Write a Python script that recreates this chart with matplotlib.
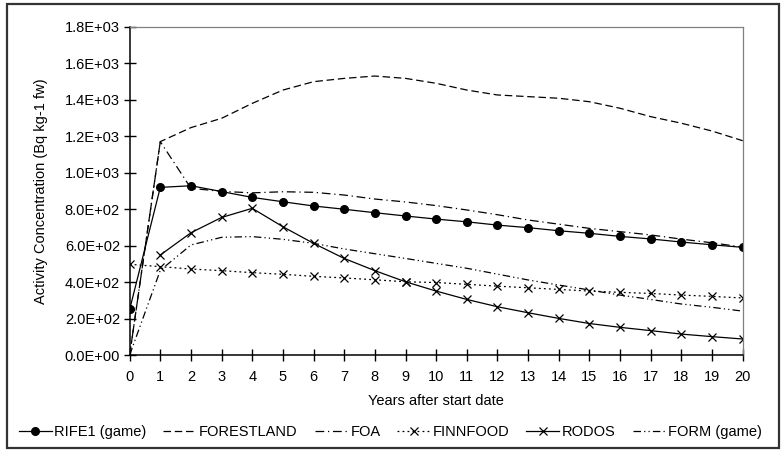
import numpy as np
import matplotlib.pyplot as plt
from matplotlib.patches import Rectangle

plt.rcParams['font.family'] = ['Liberation Sans', 'DejaVu Sans']

years = np.arange(0, 21)
years_rodos = np.arange(1, 21)

rife1 = [250, 920, 929, 897, 865, 841, 818, 800, 781, 763, 746, 731, 713, 699, 682, 668, 651, 637, 620, 605, 591]
forestland = [0, 1171, 1248, 1299, 1381, 1454, 1500, 1518, 1531, 1518, 1491, 1454, 1427, 1418, 1409, 1390, 1354, 1308, 1272, 1229, 1176]
foa = [0, 1171, 915, 898, 890, 896, 893, 878, 856, 840, 820, 796, 770, 741, 718, 695, 677, 659, 636, 616, 592]
finnfood = [498, 485, 472, 463, 452, 443, 432, 423, 413, 402, 398, 388, 378, 369, 360, 351, 344, 338, 329, 322, 313]
rodos = [549, 671, 755, 805, 704, 613, 530, 463, 402, 351, 305, 265, 232, 201, 173, 152, 134, 115, 101, 88]
form_game = [0, 465, 604, 646, 650, 635, 613, 582, 556, 530, 503, 476, 444, 412, 384, 357, 329, 305, 280, 262, 241]

yticks = np.arange(0, 1801, 200)
ytick_labels = ['0.0E+00', '2.0E+02', '4.0E+02', '6.0E+02', '8.0E+02',
                '1.0E+03', '1.2E+03', '1.4E+03', '1.6E+03', '1.8E+03']

fig = plt.figure(figsize=(7.81, 4.5), dpi=100)
ax = fig.add_axes([0.166, 0.211, 0.785, 0.729])

lw = 0.9
ax.plot(years, rife1, color='black', lw=lw, marker='o', markersize=5.5, label='RIFE1 (game)')
ax.plot(years, forestland, color='black', lw=lw, dashes=(6, 3), label='FORESTLAND')
ax.plot(years, foa, color='black', lw=lw, dashes=(7, 3, 1, 3), label='FOA')
ax.plot(years, finnfood, color='black', lw=lw, dashes=(1.5, 2.5), marker='x', markersize=6,
        markeredgewidth=0.9, label='FINNFOOD')
ax.plot(years_rodos, rodos, color='black', lw=lw, marker='x', markersize=6,
        markeredgewidth=0.9, label='RODOS')
ax.plot(years, form_game, color='black', lw=lw, dashes=(6, 2.5, 1, 2.5, 1, 2.5), label='FORM (game)')

ax.set_xlim(0, 20)
ax.set_ylim(0, 1800)
ax.set_xticks(years)
ax.set_yticks(yticks)
ax.set_yticklabels(ytick_labels)
ax.tick_params(direction='inout', length=8, width=1, labelsize=10.5)
ax.tick_params(axis='x', pad=7)
ax.tick_params(axis='y', pad=3)

for s in ['top', 'right']:
    ax.spines[s].set_color('#808080')
    ax.spines[s].set_linewidth(0.9)
for s in ['left', 'bottom']:
    ax.spines[s].set_linewidth(1.1)

ax.set_ylabel('Activity Concentration (Bq kg-1 fw)', fontsize=10.5, labelpad=12)
ax.set_xlabel('Years after start date', fontsize=10.5, labelpad=7)

fig.legend(loc='center', bbox_to_anchor=(0.5, 0.04), ncol=6, frameon=False,
           fontsize=10.5, handlelength=2.25, handletextpad=0.2, columnspacing=1.15)

fig.patches.append(Rectangle((0.009, 0.005), 0.988, 0.986, transform=fig.transFigure,
                             fill=False, edgecolor='#333333', linewidth=1.6))

fig.savefig('out.png', dpi=100)
